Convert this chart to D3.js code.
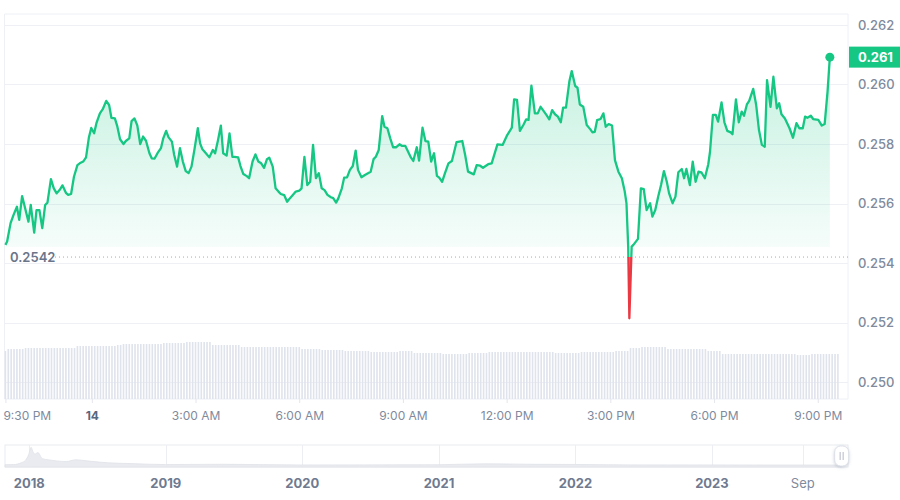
<!DOCTYPE html>
<html><head><meta charset="utf-8">
<script src="https://cdn.jsdelivr.net/npm/d3@7"></script>
<style>
body{margin:0;background:#fff;}
svg{display:block;font-family:Inter,"Noto Sans",sans-serif;}
</style>
</head><body>
<svg id="c" width="900" height="500"></svg>
<script>
// ---------------- DATA ----------------
const startTime = new Date(2023, 11, 13, 21, 30);
const endTime = new Date(2023, 11, 14, 21, 52, 30);
// minutes after start
const minutes = [0,3,9,14,20,24,29,35,40,44,50,54,59,64,69,73,79,84,89,95,99,105,109,114,119,125,129,135,140,145,149,154,158,164,169,175,180,184,190,194,199,205,209,215,219,224,229,234,239,244,250,254,259,264,270,274,279,283,289,293,298,303,308,313,318,323,328,334,338,342,348,354,360,364,369,374,378,384,389,394,398,404,408,413,419,423,429,434,439,444,449,454,458,464,469,474,478,484,489,494,500,504,510,514,519,524,529,534,539,544,549,554,559,565,569,574,578,584,588,593,598,603,608,612,618,624,634,639,643,648,654,658,663,668,673,678,684,688,694,699,704,708,714,718,724,729,734,739,744,749,753,758,763,769,775,783,793,798,803,813,818,824,829,838,844,854,863,871,879,883,888,893,899,904,908,913,919,924,929,935,939,944,949,954,959,964,968,973,979,983,989,993,997,1003,1009,1015,1019,1023,1027,1033,1038,1042,1047,1053,1058,1064,1070,1075,1078,1081,1083,1087,1090,1098,1103,1108,1113,1119,1123,1128,1133,1138,1143,1148,1152,1158,1163,1168,1174,1178,1182,1188,1193,1198,1203,1208,1214,1220,1223,1228,1233,1237,1243,1248,1253,1259,1262,1268,1273,1278,1282,1287,1291,1298,1303,1308,1313,1318,1322,1328,1333,1339,1343,1347,1353,1361,1367,1373,1378,1384,1388,1392,1398,1402,1411,1417,1422,1427,1431];
const prices = [0.25461,0.25472,0.25534,0.25561,0.25589,0.25545,0.25625,0.25578,0.25539,0.25595,0.25502,0.25578,0.25578,0.25517,0.25595,0.25603,0.25682,0.25651,0.25634,0.25648,0.25661,0.25636,0.25629,0.25632,0.25690,0.25729,0.25735,0.25741,0.25755,0.25823,0.25854,0.25836,0.25870,0.25903,0.25917,0.25945,0.25931,0.25888,0.25886,0.25861,0.25816,0.25800,0.25810,0.25819,0.25877,0.25886,0.25862,0.25800,0.25825,0.25811,0.25769,0.25752,0.25751,0.25769,0.25786,0.25819,0.25844,0.25823,0.25808,0.25763,0.25724,0.25786,0.25741,0.25709,0.25702,0.25724,0.25780,0.25853,0.25802,0.25782,0.25769,0.25755,0.25780,0.25769,0.25813,0.25862,0.25769,0.25761,0.25836,0.25757,0.25757,0.25755,0.25726,0.25699,0.25692,0.25685,0.25741,0.25765,0.25741,0.25735,0.25720,0.25749,0.25754,0.25724,0.25651,0.25640,0.25632,0.25628,0.25606,0.25618,0.25631,0.25640,0.25643,0.25651,0.25757,0.25662,0.25673,0.25797,0.25685,0.25702,0.25651,0.25645,0.25629,0.25621,0.25618,0.25603,0.25618,0.25651,0.25687,0.25688,0.25713,0.25726,0.25778,0.25713,0.25688,0.25696,0.25707,0.25749,0.25757,0.25780,0.25894,0.25858,0.25853,0.25819,0.25789,0.25789,0.25799,0.25794,0.25794,0.25774,0.25754,0.25743,0.25789,0.25744,0.25855,0.25810,0.25808,0.25741,0.25769,0.25693,0.25687,0.25673,0.25702,0.25735,0.25743,0.25806,0.25810,0.25763,0.25707,0.25698,0.25729,0.25727,0.25720,0.25732,0.25735,0.25799,0.25797,0.25830,0.25855,0.25950,0.25948,0.25844,0.25864,0.25883,0.25881,0.25996,0.25903,0.25903,0.25925,0.25909,0.25898,0.25883,0.25914,0.25900,0.25892,0.25873,0.25922,0.25922,0.26012,0.26045,0.25995,0.25989,0.25933,0.25925,0.25864,0.25850,0.25839,0.25841,0.25880,0.25884,0.25903,0.25858,0.25867,0.25862,0.25746,0.25707,0.25685,0.25640,0.25601,0.25455,0.25214,0.25455,0.25461,0.25481,0.25651,0.25648,0.25578,0.25601,0.25556,0.25578,0.25623,0.25662,0.25709,0.25673,0.25634,0.25601,0.25623,0.25705,0.25716,0.25685,0.25716,0.25662,0.25741,0.25673,0.25707,0.25705,0.25685,0.25732,0.25774,0.25898,0.25898,0.25875,0.25940,0.25873,0.25844,0.25839,0.25833,0.25950,0.25873,0.25909,0.25895,0.25933,0.25945,0.25985,0.25933,0.25847,0.25797,0.25791,0.26015,0.25925,0.26026,0.25920,0.25937,0.25900,0.25886,0.25853,0.25821,0.25870,0.25853,0.25853,0.25892,0.25888,0.25895,0.25884,0.25881,0.25862,0.25867,0.25976,0.26092];
const baselinePrice = 0.2542;
const priceTicks = [0.250, 0.252, 0.254, 0.256, 0.258, 0.260, 0.262];
const timeTickHours = [0, 2.5, 5.5, 8.5, 11.5, 14.5, 17.5, 20.5, 23.5];
const timeTickLabels = ["9:30 PM", "14", "3:00 AM", "6:00 AM", "9:00 AM", "12:00 PM", "3:00 PM", "6:00 PM", "9:00 PM"];
// volume (millions), one bar per 5 minutes
const volumes = [48,
50,50,50,50,50,50,
51,51,51,51,51,51,51,51,51,51,51,51,51,51,51,51,51,51,
53,53,53,53,53,53,53,53,53,53,53,53,53,53,
54,54,
55,55,55,55,55,55,55,55,55,55,55,55,55,55,
56,56,56,56,56,56,56,56,
57,57,57,57,57,57,57,57,57,
54,54,54,54,54,54,54,54,54,54,
52,52,52,52,52,52,52,52,52,52,52,52,52,52,52,52,52,52,52,52,52,
50,50,50,50,50,50,50,
49,49,49,49,49,49,49,49,
48,48,48,48,48,48,48,48,48,
47,47,47,47,47,47,47,47,47,47,
48,48,48,48,48,
46,46,46,46,46,46,46,46,46,46,
45,45,45,45,45,45,45,45,45,
46,46,46,46,46,46,46,
47,47,47,47,47,47,47,47,47,47,47,47,47,47,47,47,47,47,47,47,47,47,47,
46,46,46,46,46,46,46,46,46,
47,47,47,47,47,47,47,47,47,47,47,47,
48,48,48,48,48,
51,51,51,51,
52,52,52,52,52,52,52,52,52,
50,50,50,50,50,50,50,50,50,50,50,50,50,50,
48,48,48,48,48,
45,45,45,45,45,45,45,45,45,45,45,45,45,45,45,45,45,45,45,45,45,45,45,45,45,45,
44,44,44,44,44,
45,45,45,45,45,45,45,45,45,45];
// navigator (long-range history)
const navDates = ["2017-10-28","2017-11-20","2017-12-10","2017-12-22","2017-12-30","2018-01-06","2018-01-10","2018-01-16","2018-01-24","2018-02-05","2018-02-20","2018-03-15","2018-04-10","2018-05-05","2018-05-20","2018-06-15","2018-08-01","2018-10-01","2019-01-01","2019-06-01","2020-01-01","2020-06-01","2021-01-01","2021-05-01","2021-09-01","2022-01-01","2022-06-01","2023-01-01","2023-06-01","2023-12-14"];
const navValues = [0.30,0.32,0.55,0.9,1.6,2.6,2.1,1.7,1.9,1.1,0.95,0.8,0.72,0.95,0.9,0.75,0.55,0.45,0.32,0.36,0.27,0.28,0.30,0.42,0.36,0.33,0.28,0.27,0.26,0.26];
const navTickDates = ["2018-01-01","2019-01-01","2020-01-01","2021-01-01","2022-01-01","2023-01-01","2023-09-01"];
const navTickLabels = ["2018","2019","2020","2021","2022","2023","Sep"];

// ---------------- CHART ----------------
const svg = d3.select("#c");
const GREEN = "#16c784", RED = "#ea3943", GRID = "#eef0f5", LABEL = "#808a9d";
const plotL = 4.5, plotR = 848, plotT = 14, plotB = 399;

const x = d3.scaleTime().domain([startTime, endTime]).range([5.4, plotR]);
const y = d3.scaleLinear().domain([0.250, 0.262]).range([382, 25]);
const yVol = d3.scaleLinear().domain([0, 60]).range([plotB, plotB - 60]);

const pts = minutes.map((m, i) => ({t: new Date(+startTime + m * 60000), p: prices[i]}));
const yBase = y(baselinePrice);

// frame + gridlines
svg.append("line").attr("x1", plotL).attr("x2", plotR).attr("y1", plotT).attr("y2", plotT).attr("stroke", GRID);
svg.append("line").attr("x1", plotL).attr("x2", plotL).attr("y1", plotT).attr("y2", plotB).attr("stroke", GRID);
svg.append("line").attr("x1", plotR).attr("x2", plotR).attr("y1", plotT).attr("y2", plotB).attr("stroke", GRID);
svg.append("line").attr("x1", plotL).attr("x2", plotR).attr("y1", plotB).attr("y2", plotB).attr("stroke", GRID);
svg.append("g").selectAll("line").data(priceTicks).join("line")
  .attr("x1", plotL).attr("x2", plotR)
  .attr("y1", d => Math.round(y(d)) + 0.5).attr("y2", d => Math.round(y(d)) + 0.5)
  .attr("stroke", GRID);

// right axis labels
const yAxis = d3.axisRight(y).tickValues(priceTicks).tickFormat(d3.format(".3f")).tickSize(0).tickPadding(10);
const ga = svg.append("g").attr("transform", `translate(${plotR},0)`).call(yAxis);
ga.select(".domain").remove();
ga.selectAll("text").attr("fill", LABEL).attr("font-size", 13).attr("font-weight", 500).attr("font-family", "Inter");

// volume bars
const barTimes = volumes.map((v, i) => new Date(+startTime + i * 5 * 60000));
svg.append("g").selectAll("rect").data(volumes).join("rect")
  .attr("x", (d, i) => x(barTimes[i]) - 0.8)
  .attr("width", 1.6)
  .attr("y", d => yVol(d))
  .attr("height", d => yVol(0) - yVol(d))
  .attr("fill", "#dfe3ec");

// gradient
const defs = svg.append("defs");
const gMax = d3.max(prices);
const lg = defs.append("linearGradient").attr("id", "gfill").attr("gradientUnits", "userSpaceOnUse")
  .attr("x1", 0).attr("x2", 0).attr("y1", y(gMax)).attr("y2", yBase);
lg.append("stop").attr("offset", 0).attr("stop-color", GREEN).attr("stop-opacity", 0.25);
lg.append("stop").attr("offset", 0.95).attr("stop-color", GREEN).attr("stop-opacity", 0.04);
lg.append("stop").attr("offset", 0.951).attr("stop-color", GREEN).attr("stop-opacity", 0);
const rg = defs.append("linearGradient").attr("id", "rfill").attr("gradientUnits", "userSpaceOnUse")
  .attr("x1", 0).attr("x2", 0).attr("y1", yBase).attr("y2", y(d3.min(prices)));
rg.append("stop").attr("offset", 0).attr("stop-color", RED).attr("stop-opacity", 0.6);
rg.append("stop").attr("offset", 1).attr("stop-color", RED).attr("stop-opacity", 0.9);
defs.append("clipPath").attr("id", "above").append("rect").attr("x", 0).attr("y", 0).attr("width", 900).attr("height", yBase);
defs.append("clipPath").attr("id", "below").append("rect").attr("x", 0).attr("y", yBase).attr("width", 900).attr("height", 500 - yBase);

const area = d3.area().x(d => x(d.t)).y0(yBase).y1(d => y(d.p));
const line = d3.line().x(d => x(d.t)).y(d => y(d.p));

svg.append("path").datum(pts).attr("d", area).attr("fill", "url(#gfill)").attr("clip-path", "url(#above)");
svg.append("path").datum(pts).attr("d", area).attr("fill", "url(#rfill)").attr("clip-path", "url(#below)");

// baseline dotted
svg.append("line").attr("x1", 55).attr("x2", plotR).attr("y1", yBase).attr("y2", yBase)
  .attr("stroke", "#a3a9b8").attr("stroke-width", 1).attr("stroke-dasharray", "1,3");

svg.append("path").datum(pts).attr("d", line).attr("fill", "none").attr("stroke", GREEN)
  .attr("stroke-width", 2.3).attr("stroke-linejoin", "round").attr("clip-path", "url(#above)");
svg.append("path").datum(pts).attr("d", line).attr("fill", "none").attr("stroke", RED)
  .attr("stroke-width", 2.3).attr("stroke-linejoin", "round").attr("clip-path", "url(#below)");

// baseline label
svg.append("text").attr("x", 10).attr("y", yBase).attr("dy", "0.35em")
  .attr("font-size", 13).attr("font-weight", 600).attr("fill", "#6b758a").text(d3.format(".4f")(baselinePrice));

// end dot + price tag
const last = pts[pts.length - 1];
svg.append("circle").attr("cx", x(last.t)).attr("cy", y(last.p)).attr("r", 4.5).attr("fill", GREEN);
svg.append("rect").attr("x", plotR + 1).attr("y", y(last.p) - 10.5).attr("width", 52).attr("height", 21).attr("fill", GREEN);
svg.append("text").attr("x", plotR + 10).attr("y", y(last.p)).attr("dy", "0.35em")
  .attr("font-size", 13).attr("font-weight", 700).attr("fill", "#fff").text(d3.format(".3f")(last.p));

// x axis
const tickDates = timeTickHours.map(h => new Date(+startTime + h * 3600000));
const xAxis = d3.axisBottom(x).tickValues(tickDates).tickFormat((d, i) => timeTickLabels[i]).tickSize(4).tickPadding(8);
const gx = svg.append("g").attr("transform", `translate(0,${plotB})`).call(xAxis);
gx.select(".domain").remove();
gx.selectAll(".tick line").attr("stroke", "#e3e6ec");
gx.selectAll("text").attr("fill", LABEL).attr("font-size", 12).attr("font-family", "Inter")
  .attr("font-weight", (d, i) => i === 1 ? 700 : 400)
  .attr("fill", (d, i) => i === 1 ? "#58667e" : LABEL);
gx.selectAll(".tick").filter((d, i) => i === 0).select("text").attr("text-anchor", "start").attr("x", -2.5);

// navigator
const navTop = 445, navBot = 467;
const nx = d3.scaleTime().domain([new Date(2017, 9, 28), new Date(2023, 11, 31)]).range([5, plotR]);
const ny = d3.scaleLinear().domain([0, 2.9]).range([navBot, navTop]);
const navPts = navDates.map((d, i) => ({t: new Date(d), v: navValues[i]}));
svg.append("rect").attr("x", 5).attr("y", navTop).attr("width", plotR - 5).attr("height", navBot - navTop)
  .attr("fill", "#fff").attr("stroke", "#e8ebf0");
svg.append("g").selectAll("line").data(navTickDates).join("line")
  .attr("x1", d => Math.round(nx(new Date(d))) + 0.5).attr("x2", d => Math.round(nx(new Date(d))) + 0.5)
  .attr("y1", navTop).attr("y2", navBot).attr("stroke", "#eceef3");
svg.append("path").datum(navPts)
  .attr("d", d3.area().x(d => nx(d.t)).y0(navBot).y1(d => ny(d.v)).curve(d3.curveMonotoneX))
  .attr("fill", "#e9ebf0").attr("stroke", "#dfe2e8").attr("stroke-width", 0.8);
svg.append("g").selectAll("text").data(navTickDates).join("text")
  .attr("x", d => nx(new Date(d))).attr("y", 483).attr("dy", "0.35em")
  .attr("text-anchor", "middle").attr("font-size", 13)
  .attr("font-weight", (d, i) => navTickLabels[i] === "Sep" ? 400 : 700)
  .attr("fill", (d, i) => navTickLabels[i] === "Sep" ? "#808a9d" : "#6f7a90")
  .text((d, i) => navTickLabels[i]);
// handle
const hx = nx(new Date(2023, 11, 14));
defs.append("filter").attr("id", "sh").attr("x", "-50%").attr("y", "-50%").attr("width", "200%").attr("height", "200%")
  .append("feDropShadow").attr("dx", 0).attr("dy", 1).attr("stdDeviation", 1.5).attr("flood-color", "#9aa3b5").attr("flood-opacity", 0.5);
svg.append("rect").attr("x", hx - 7).attr("y", navTop + 1).attr("width", 14).attr("height", 20).attr("rx", 6)
  .attr("fill", "#fff").attr("stroke", "#dde1e8").attr("filter", "url(#sh)");
[-1.5, 1.5].forEach(o => svg.append("line").attr("x1", hx + o).attr("x2", hx + o).attr("y1", navTop + 7).attr("y2", navTop + 15)
  .attr("stroke", "#b4bac6").attr("stroke-width", 1));
</script>
</body></html>
